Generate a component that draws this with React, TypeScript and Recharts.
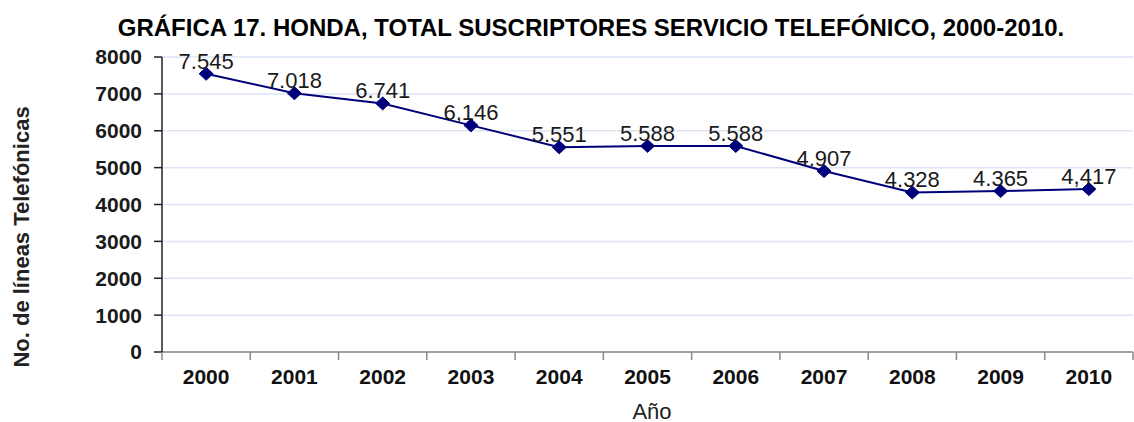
import { CartesianGrid, LabelList, Line, LineChart, XAxis, YAxis } from 'recharts';

const years = ['2000', '2001', '2002', '2003', '2004', '2005', '2006', '2007', '2008', '2009', '2010'];
const lineas = [7545, 7018, 6741, 6146, 5551, 5588, 5588, 4907, 4328, 4365, 4417];
const valueLabels = ['7.545', '7.018', '6.741', '6,146', '5.551', '5.588', '5.588', '4.907', '4.328', '4.365', '4,417'];
const yTicks = [0, 1000, 2000, 3000, 4000, 5000, 6000, 7000, 8000];

const data = years.map((y, i) => ({ year: y, value: lineas[i], label: valueLabels[i] }));

const font = 'Arial, "Liberation Sans", sans-serif';

// plot area edges, used for the category band padding
const plotLeft = 162;
const plotRight = 1133;
const halfBand = (plotRight - plotLeft) / years.length / 2;
const tickLen = 8;
const tickGap = 9;

const Diamond = (props: any) => {
	const { cx, cy } = props;
	if (cx == null || cy == null) return null;
	return (
		<path
			d={`M${cx - 7},${cy} L${cx},${cy - 6.5} L${cx + 7},${cy} L${cx},${cy + 6.5} Z`}
			fill='#00007a'
			stroke='#00007a'
		/>
	);
};

// year label centred in its band, tick marks on the band edges
const XTick = (props: any) => {
	const { x, y, payload, index } = props;
	const axisY = y - tickLen - tickGap;
	return (
		<g>
			<line x1={x - halfBand} x2={x - halfBand} y1={axisY} y2={axisY + tickLen} stroke='#888' strokeWidth={1.5} />
			{index === years.length - 1 && (
				<line x1={x + halfBand} x2={x + halfBand} y1={axisY} y2={axisY + tickLen} stroke='#888' strokeWidth={1.5} />
			)}
			<text x={x} y={y} dy='0.71em' textAnchor='middle' fontFamily={font} fontWeight='bold' fontSize={21} fill='#111'>
				{payload.value}
			</text>
		</g>
	);
};

const YTitle = () => (
	<text
		x={21}
		y={237}
		transform='rotate(-90, 21, 237)'
		textAnchor='middle'
		dominantBaseline='central'
		fontFamily={font}
		fontWeight='bold'
		fontSize={22}
		fill='#222'
	>
		No. de líneas Telefónicas
	</text>
);

const XTitle = () => (
	<text x={652} y={411} textAnchor='middle' dominantBaseline='central' fontFamily={font} fontSize={22} fill='#222'>
		Año
	</text>
);

const App = () => {
	return (
		<div style={{ position: 'absolute', left: 0, top: 0, width: 1134, height: 422, background: '#fff' }}>
			<div
				style={{
					position: 'absolute',
					left: 0,
					top: 14,
					width: 1182,
					textAlign: 'center',
					fontFamily: font,
					fontWeight: 'bold',
					fontSize: 24,
					color: '#000',
					whiteSpace: 'nowrap',
				}}
			>
				GRÁFICA 17. HONDA, TOTAL SUSCRIPTORES SERVICIO TELEFÓNICO, 2000-2010.
			</div>
			<LineChart
				width={1134}
				height={422}
				data={data}
				margin={{ top: 57, right: 1, bottom: 30, left: 0 }}
				style={{ position: 'absolute', left: 0, top: 0 }}
			>
				<CartesianGrid vertical={false} stroke='#dbe3f4' strokeWidth={1.5} />
				<XAxis
					dataKey='year'
					height={40}
					padding={{ left: halfBand, right: halfBand }}
					stroke='#888'
					strokeWidth={1.5}
					tickLine={false}
					tickSize={tickLen}
					tickMargin={tickGap}
					interval={0}
					tick={<XTick />}
					label={<XTitle />}
				/>
				<YAxis
					width={plotLeft}
					domain={[0, 8000]}
					ticks={yTicks}
					interval={0}
					stroke='#222'
					strokeWidth={1.5}
					tickSize={8}
					tickMargin={12}
					tick={{ fontFamily: font, fontWeight: 'bold', fontSize: 21, fill: '#1a1a1a' }}
					label={<YTitle />}
				/>
				<Line
					dataKey='value'
					stroke='#00007a'
					strokeWidth={2}
					dot={<Diamond />}
					activeDot={false}
					isAnimationActive={false}
				>
					<LabelList
						dataKey='label'
						position='top'
						offset={5}
						style={{ fontFamily: font, fontSize: 22, fill: '#1a1a1a' }}
					/>
				</Line>
			</LineChart>
		</div>
	);
};

export default App;
